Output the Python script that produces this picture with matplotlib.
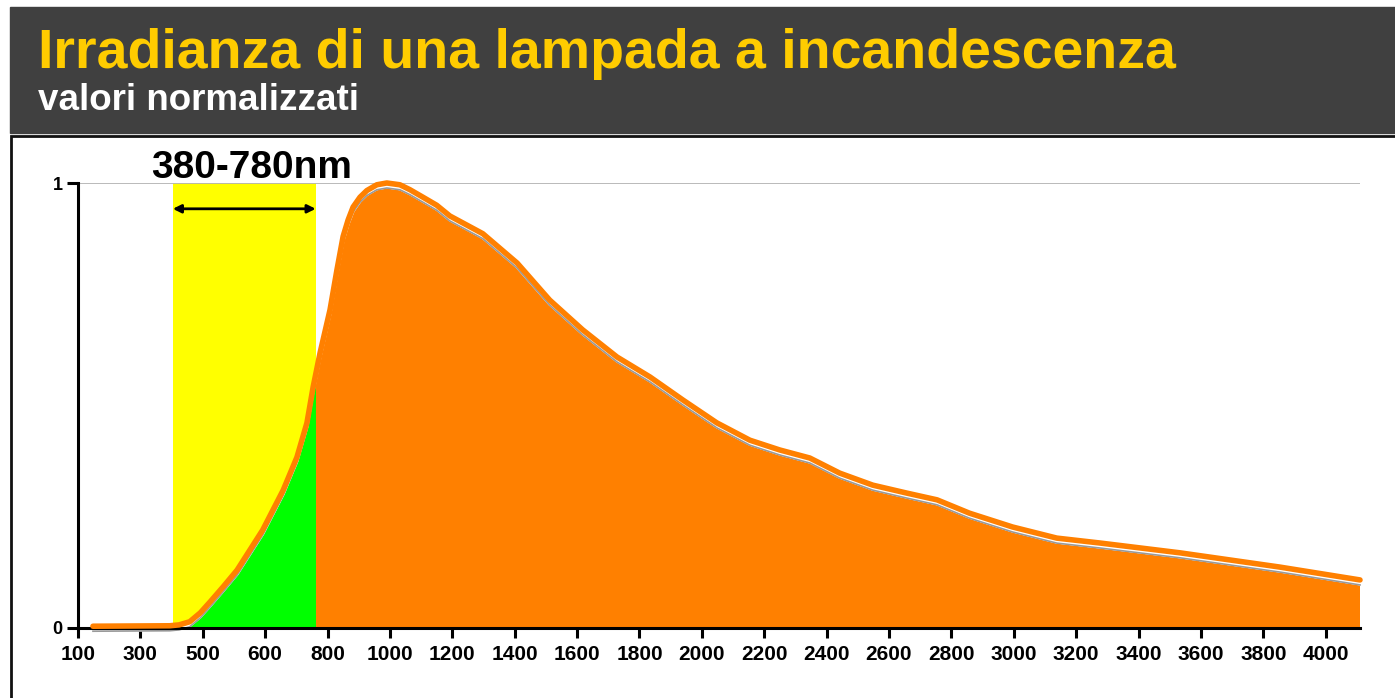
import matplotlib.pyplot as plt
from matplotlib import transforms
from matplotlib.patches import Rectangle

plt.rcParams['font.family'] = ['Liberation Sans', 'DejaVu Sans']

# tick labels of the (non linear) wavelength axis, one per evenly spaced slot
wl_labels = ['100', '300', '500', '600', '800', '1000', '1200', '1400', '1600',
             '1800', '2000', '2200', '2400', '2600', '2800', '3000', '3200',
             '3400', '3600', '3800', '4000']

# curve: x in tick slots, y normalized irradiance
pos = [0.24, 1.47, 1.62, 1.79, 1.96, 2.12, 2.33, 2.55, 2.96, 3.29, 3.51,
       3.67, 3.77, 3.88, 4.04, 4.15, 4.25, 4.33, 4.41, 4.52, 4.63, 4.79,
       4.95, 5.16, 5.32, 5.53, 5.75, 5.96, 6.49, 7.04, 7.56, 8.09, 8.64,
       9.17, 9.70, 10.24, 10.77, 11.25, 11.73, 12.21, 12.74, 13.29, 13.77,
       14.29, 14.98, 15.69, 16.38, 17.66, 19.26, 20.55]
irr = [0.004, 0.005, 0.007, 0.014, 0.034, 0.059, 0.093, 0.130, 0.220, 0.310,
       0.384, 0.461, 0.542, 0.618, 0.715, 0.804, 0.880, 0.917, 0.946, 0.968,
       0.983, 0.996, 1.000, 0.996, 0.985, 0.968, 0.950, 0.926, 0.886, 0.820,
       0.737, 0.670, 0.609, 0.564, 0.512, 0.461, 0.422, 0.400, 0.382, 0.348,
       0.321, 0.303, 0.288, 0.258, 0.227, 0.202, 0.191, 0.169, 0.137, 0.108]

# visible band (380-780 nm) as drawn, in tick slots
band = [1.52, 3.81]
band_label = '380-780nm'

W, H = 1395, 698
fig = plt.figure(figsize=(W / 100, H / 100), dpi=100)

# header and frame
fig.patches.append(Rectangle((10 / W, 1 - 133 / H), 1, 126 / H,
                             transform=fig.transFigure, color='#404040', zorder=0))
fig.patches.append(Rectangle((11 / W, -0.1), 1.2, 0.1 + 1 - 136 / H,
                             transform=fig.transFigure, fill=False,
                             edgecolor='#111111', lw=2, zorder=0))
fig.text(38 / W, 1 - 68 / H, 'Irradianza di una lampada a incandescenza',
         color='#FFCC00', fontsize=40, fontweight='bold', va='baseline')
fig.text(38 / W, 1 - 110 / H, 'valori normalizzati',
         color='white', fontsize=26.5, fontweight='bold', va='baseline')

ax = fig.add_axes([78 / W, 70 / H, (1360 - 78) / W, 445 / H])
ax.set_xlim(0, 20.55)
ax.set_ylim(0, 1)
ax.patch.set_alpha(0)


def shifted(dy):
    return transforms.offset_copy(ax.transData, fig=fig, x=0, y=-dy, units='dots')


ax.axvspan(band[0], band[1], color='#FFFF00', lw=0, zorder=0.5)
ax.axhline(1, color='#b4b4b4', lw=1.3, zorder=0.6)

poly_x = pos + [pos[-1], pos[0]]
poly_y = irr + [0, 0]
ax.fill(poly_x, poly_y, color='#FF8000', lw=0, zorder=1, transform=shifted(5.5))
green = ax.fill(poly_x, poly_y, color='#00FF00', lw=0, zorder=1.1,
                transform=shifted(5.5))[0]
clip = Rectangle((band[0], 0), band[1] - band[0], 1, transform=ax.transData)
green.set_clip_path(clip)

ax.plot(pos, irr, color='white', lw=2.2, zorder=2, transform=shifted(4),
        solid_joinstyle='round', clip_on=False)
ax.plot(pos, irr, color='#9a9a9a', lw=1.2, zorder=2.1, transform=shifted(5),
        solid_joinstyle='round', clip_on=False)
ax.plot(pos, irr, color='#FF8000', lw=4, zorder=3, solid_joinstyle='round',
        solid_capstyle='round', clip_on=False)

ax.annotate('', xy=(band[0], 0.942), xytext=(band[1], 0.942),
            arrowprops=dict(arrowstyle='<|-|>', color='black', lw=2,
                            mutation_scale=12, shrinkA=0, shrinkB=0))
ax.text(2.79, 1.011, band_label, ha='center', va='baseline', fontsize=28,
        fontweight='bold', clip_on=False)

for s in ['top', 'right']:
    ax.spines[s].set_visible(False)
for s in ['left', 'bottom']:
    ax.spines[s].set_linewidth(2.2)
    ax.spines[s].set_color('black')

ax.set_xticks(range(len(wl_labels)))
ax.set_xticklabels(wl_labels, fontsize=15, fontweight='bold')
ax.tick_params(axis='x', length=7.5, width=2.2, pad=5, colors='black')
ax.set_yticks([0, 1])
ax.set_yticklabels(['0', '1'], fontsize=13, fontweight='bold')
ax.tick_params(axis='y', length=8, width=2.2, pad=3)

fig.savefig('out.png', dpi=100)
